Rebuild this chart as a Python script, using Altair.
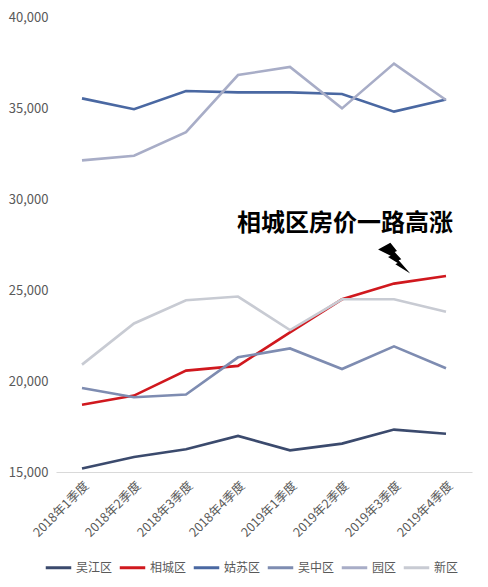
import altair as alt
import pandas as pd

quarters = ["2018年1季度", "2018年2季度", "2018年3季度", "2018年4季度",
            "2019年1季度", "2019年2季度", "2019年3季度", "2019年4季度"]
districts = ["吴江区", "相城区", "姑苏区", "吴中区", "园区", "新区"]
colors = ["#3b4a6d", "#d0181e", "#4a68a2", "#7e8cb1", "#a8adc7", "#c8cbd3"]

wujiang = [15190, 15820, 16250, 16980, 16190, 16560, 17330, 17100]
xiangcheng = [18690, 19200, 20570, 20830, 22670, 24490, 25350, 25770]
gusu = [35530, 34930, 35930, 35860, 35860, 35770, 34800, 35470]
wuzhong = [19620, 19110, 19260, 21300, 21790, 20660, 21900, 20700]
yuanqu = [32120, 32380, 33670, 36810, 37260, 34980, 37440, 35440]
xinqu = [20900, 23160, 24440, 24640, 22800, 24490, 24490, 23800]

series = [wujiang, xiangcheng, gusu, wuzhong, yuanqu, xinqu]
y_ticks = [15000, 20000, 25000, 30000, 35000, 40000]

note_text = ["相城区房价一路高涨"]
note_quarter = ["2019年2季度"]
note_value = [28600]
bolt_quarter = ["2019年3季度"]
bolt_value = [26740]

rows = []
for d, vals in zip(districts, series):
    for q, v in zip(quarters, vals):
        rows.append({"quarter": q, "district": d, "price": v})
df = pd.DataFrame(rows)

FONT = "Noto Sans CJK SC"

xscale = alt.Scale(domain=quarters, type="point", padding=0.5)
yscale = alt.Scale(domain=[15000, 40000], nice=False, zero=False)

lines = alt.Chart(df).mark_line(strokeWidth=2.6).encode(
    x=alt.X("quarter:N", scale=xscale, sort=quarters,
            axis=alt.Axis(title=None, labelAngle=-45, ticks=False, domain=True,
                          domainColor="#d9d9d9", labelColor="#595959",
                          labelFontSize=12.5, labelFont=FONT, labelPadding=7)),
    y=alt.Y("price:Q", scale=yscale,
            axis=alt.Axis(title=None, values=y_ticks, format=",d", grid=False,
                          ticks=False, domain=False, labelColor="#595959",
                          labelFontSize=13, labelFont=FONT, labelPadding=8)),
    color=alt.Color("district:N", scale=alt.Scale(domain=districts, range=colors),
                    sort=districts,
                    legend=alt.Legend(title=None, orient="none", direction="horizontal",
                                      legendX=-12, legendY=536,
                                      symbolType="stroke", symbolStrokeWidth=3,
                                      symbolSize=650, labelFontSize=12,
                                      labelFont=FONT, labelColor="#595959",
                                      labelOffset=3, columnPadding=0)),
    order=alt.Order("district:N"),
)

note_df = pd.DataFrame({"quarter": note_quarter, "price": note_value, "text": note_text})
note = alt.Chart(note_df).mark_text(font=FONT, fontSize=24, fontWeight="bold",
                                     color="#000000", dx=3).encode(
    x=alt.X("quarter:N", scale=xscale, sort=quarters),
    y=alt.Y("price:Q", scale=yscale),
    text="text:N",
)

bolt_path = ("M -0.96,-0.54 L -0.22,-0.94 L 0.18,-0.44 L 0.04,-0.38 L 0.44,0.06 "
             "L 0.28,0.12 L 0.98,0.92 L 0.08,0.36 L 0.22,0.28 L -0.36,-0.08 "
             "L -0.2,-0.16 Z")
bolt_df = pd.DataFrame({"quarter": bolt_quarter, "price": bolt_value})
bolt = alt.Chart(bolt_df).mark_point(shape=bolt_path, filled=True, color="#000000",
                                      size=1100, opacity=1, dx=10).encode(
    x=alt.X("quarter:N", scale=xscale, sort=quarters),
    y=alt.Y("price:Q", scale=yscale),
)

chart = alt.layer(lines, note, bolt).properties(
    width=416, height=455,
    autosize=alt.AutoSizeParams(type="none"),
    padding={"left": 48, "top": 9, "right": 8, "bottom": 107},
).configure(font=FONT).configure_view(strokeWidth=0, stroke="transparent")

chart.save("out.html", embed_options={"renderer": "svg", "actions": False})
